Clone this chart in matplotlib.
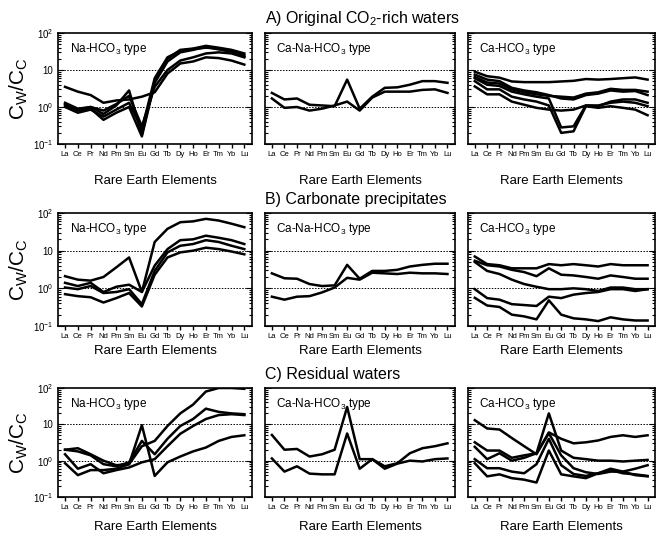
import numpy as np
import matplotlib
matplotlib.use('Agg')
import matplotlib.pyplot as plt
from matplotlib.ticker import LogLocator, FixedLocator, NullFormatter

plt.rcParams['font.family'] = ['Liberation Sans', 'DejaVu Sans']
plt.rcParams['mathtext.fontset'] = 'custom'
plt.rcParams['mathtext.rm'] = 'Liberation Sans'
plt.rcParams['mathtext.it'] = 'Liberation Sans:italic'

# rare earth elements on the x axis
ree = ['La', 'Ce', 'Pr', 'Nd', 'Pm', 'Sm', 'Eu', 'Gd', 'Tb', 'Dy', 'Ho', 'Er', 'Tm', 'Yb', 'Lu']

row_titles = ['A) Original CO$_2$-rich waters', 'B) Carbonate precipitates', 'C) Residual waters']
type_labels = ['Na-HCO$_3$ type', 'Ca-Na-HCO$_3$ type', 'Ca-HCO$_3$ type']

# A) original CO2-rich waters
a_na = [
    [3.5, 2.6, 2.1, 1.3, 1.5, 1.6, 1.9, 2.5, 8, 15, 17, 22, 21, 18, 14],
    [1.3, 0.9, 1.0, 0.65, 1.1, 2.8, 0.18, 5, 20, 35, 38, 45, 40, 35, 28],
    [1.2, 0.8, 0.9, 0.45, 0.7, 1.0, 0.16, 4.5, 17, 30, 35, 42, 36, 32, 25],
    [1.0, 0.7, 0.85, 0.55, 0.85, 1.3, 0.25, 6, 22, 33, 37, 40, 38, 30, 23],
    [1.1, 0.85, 1.0, 0.8, 1.2, 2.0, 0.3, 3.5, 10, 18, 22, 28, 30, 28, 22],
]
a_cana = [
    [2.4, 1.6, 1.7, 1.15, 1.1, 1.05, 5.5, 0.9, 1.9, 3.3, 3.4, 4.0, 5.0, 5.0, 4.5],
    [1.7, 0.95, 1.0, 0.8, 0.9, 1.1, 1.4, 0.8, 1.8, 2.6, 2.6, 2.6, 2.9, 3.0, 2.4],
]
a_ca = [
    [9, 6.8, 6.2, 4.9, 4.7, 4.7, 4.7, 4.9, 5.1, 5.7, 5.5, 5.7, 6.0, 6.3, 5.5],
    [7.5, 5.5, 5.0, 3.3, 2.8, 2.5, 2.1, 1.7, 1.6, 2.1, 2.3, 2.8, 2.6, 2.7, 2.1],
    [6.5, 4.6, 4.3, 3.0, 2.5, 2.2, 2.0, 1.9, 1.8, 2.3, 2.5, 3.1, 2.9, 2.9, 2.6],
    [6, 4.0, 3.7, 2.6, 2.2, 1.9, 1.7, 0.28, 0.3, 1.1, 1.05, 1.4, 1.6, 1.6, 1.3],
    [5, 3.0, 3.0, 1.9, 1.6, 1.4, 1.1, 0.2, 0.22, 1.05, 0.95, 1.05, 0.95, 0.85, 0.6],
    [3.6, 2.2, 2.2, 1.4, 1.15, 0.95, 0.85, 0.8, 0.85, 1.1, 1.1, 1.3, 1.4, 1.3, 1.05],
]

# B) carbonate precipitates
b_na = [
    [2.1, 1.7, 1.6, 2.0, 3.6, 6.6, 0.8, 17, 38, 57, 60, 70, 63, 52, 42],
    [1.4, 1.15, 1.4, 0.8, 1.1, 1.25, 0.8, 4, 11, 19, 20, 25, 22, 19, 15],
    [1.05, 0.95, 1.15, 0.75, 0.8, 0.95, 0.38, 2.9, 9, 13.5, 15, 19, 17, 13.5, 11],
    [0.7, 0.62, 0.58, 0.42, 0.55, 0.75, 0.33, 2.3, 6.6, 9, 10, 12, 11, 9.5, 8],
]
b_cana = [
    [2.5, 1.85, 1.8, 1.3, 1.15, 1.2, 4.2, 1.8, 2.9, 2.9, 3.1, 3.8, 4.2, 4.5, 4.5],
    [0.6, 0.5, 0.6, 0.62, 0.78, 1.05, 1.9, 1.7, 2.6, 2.5, 2.4, 2.6, 2.5, 2.5, 2.4],
]
b_ca = [
    [7, 4.4, 4.1, 3.4, 3.4, 3.4, 4.4, 4.1, 4.4, 4.1, 3.8, 4.4, 4.1, 4.1, 4.1],
    [5.4, 4.1, 3.8, 3.1, 2.7, 2.1, 3.4, 2.3, 2.2, 2.0, 1.8, 2.2, 2.0, 1.8, 1.8],
    [5, 2.9, 2.4, 1.7, 1.3, 1.1, 0.95, 0.95, 1.0, 0.95, 0.85, 1.05, 1.05, 0.95, 0.95],
    [0.95, 0.55, 0.5, 0.38, 0.36, 0.34, 0.6, 0.55, 0.68, 0.75, 0.8, 0.95, 0.95, 0.85, 0.95],
    [0.56, 0.35, 0.32, 0.2, 0.18, 0.15, 0.48, 0.2, 0.16, 0.15, 0.135, 0.17, 0.15, 0.14, 0.14],
]

# C) residual waters
c_na = [
    [0.85, 0.4, 0.55, 0.55, 0.6, 0.8, 9.5, 0.38, 0.9, 1.3, 1.8, 2.3, 3.5, 4.5, 5],
    [2.0, 2.2, 1.5, 1.0, 0.75, 0.8, 2.5, 3.5, 9, 20, 35, 80, 100, 100, 95],
    [2.0, 1.8, 1.4, 0.8, 0.7, 0.9, 3.5, 1.5, 4, 9, 14, 27, 22, 20, 19],
    [1.5, 0.6, 0.8, 0.45, 0.55, 0.65, 0.9, 1.1, 2.5, 5.5, 9, 14, 18, 19, 18],
]
c_cana = [
    [5.1, 2.0, 2.1, 1.3, 1.5, 2.0, 30, 1.1, 1.1, 0.7, 0.85, 1.6, 2.2, 2.5, 3.0],
    [1.15, 0.5, 0.7, 0.44, 0.42, 0.42, 5.6, 0.6, 1.1, 0.6, 0.83, 1.0, 0.95, 1.1, 1.15],
]
c_ca = [
    [13, 7.7, 7.2, 4.2, 2.5, 1.5, 6, 4, 3, 3.2, 3.6, 4.5, 5, 4.5, 5],
    [3.2, 1.9, 1.9, 1.2, 1.4, 1.6, 20, 1.9, 1.2, 1.1, 1.0, 1.0, 0.95, 1.0, 1.05],
    [2.4, 1.1, 1.6, 1.0, 1.2, 1.6, 5.7, 1.4, 0.62, 0.48, 0.43, 0.5, 0.5, 0.6, 0.75],
    [1.1, 0.62, 0.62, 0.5, 0.45, 0.8, 4, 0.75, 0.43, 0.38, 0.45, 0.6, 0.5, 0.4, 0.37],
    [0.85, 0.37, 0.42, 0.33, 0.3, 0.25, 1.9, 0.42, 0.37, 0.33, 0.45, 0.55, 0.45, 0.42, 0.38],
]

panels = [[a_na, a_cana, a_ca], [b_na, b_cana, b_ca], [c_na, c_cana, c_ca]]

W, H = 657, 533
fig = plt.figure(figsize=(W / 100, H / 100), dpi=100)

col_px = [(58, 252), (265, 455), (468, 655)]
row_px = [(33, 144), (213, 326), (388, 497)]
title_y = [19, 200, 375]
xlabel_pad = [12, 4, 7]

x = np.arange(len(ree))
for r in range(3):
    for c in range(3):
        x0, x1 = col_px[c]
        y0, y1 = row_px[r]
        ax = fig.add_axes([x0 / W, 1 - y1 / H, (x1 - x0) / W, (y1 - y0) / H])
        for line in panels[r][c]:
            ax.plot(x, line, color='black', linewidth=1.8, solid_joinstyle='round')
        ax.set_yscale('log')
        ax.set_ylim(0.1, 100)
        ax.set_xlim(-0.55, 14.6)
        for yv in [1, 10]:
            ax.axhline(yv, color='black', linewidth=0.7, linestyle=(0, (1.5, 1.5)), zorder=0)
        ax.set_xticks(x)
        ax.set_xticklabels(ree, fontsize=5.5)
        ax.tick_params(axis='x', direction='out', length=3, width=1, pad=2)
        ax.yaxis.set_major_locator(FixedLocator([0.1, 1, 10, 100]))
        ax.yaxis.set_minor_locator(LogLocator(base=10, subs=np.arange(2, 10)))
        ax.yaxis.set_minor_formatter(NullFormatter())
        ax.tick_params(axis='y', which='both', direction='in', right=True, width=0.8)
        ax.tick_params(axis='y', which='major', length=4)
        ax.tick_params(axis='y', which='minor', length=2)
        if c == 0:
            ax.set_yticklabels(['10$^{-1}$', '10$^{0}$', '10', '10$^{2}$'], fontsize=7)
            ax.set_ylabel(r'C$_\mathrm{W}$/C$_\mathrm{C}$', fontsize=15, labelpad=2)
        else:
            ax.set_yticklabels([])
        for s in ax.spines.values():
            s.set_linewidth(1.2)
        ax.set_xlabel('Rare Earth Elements', fontsize=9.5, labelpad=xlabel_pad[r])
        ax.text(0.06, 0.93, type_labels[c], transform=ax.transAxes, fontsize=8.5,
                ha='left', va='top')
    fig.text(265 / W, 1 - title_y[r] / H, row_titles[r], fontsize=11.5, ha='left', va='center')

fig.savefig('out.png', dpi=100)
